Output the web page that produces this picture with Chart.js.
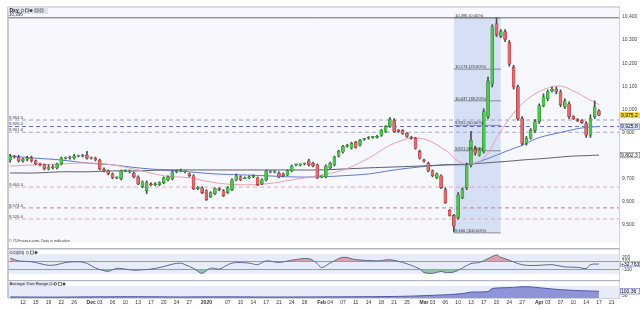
<!DOCTYPE html>
<html>
<head>
<meta charset="utf-8">
<title>Dxy</title>
<script src="https://cdn.jsdelivr.net/npm/chart.js@4.4.1/dist/chart.umd.min.js"></script>
<style>
  html, body { margin: 0; padding: 0; background: #ffffff; }
  #wrap { position: relative; width: 640px; height: 310px; overflow: hidden; }
  #wrap canvas { position: absolute; left: 0; }
</style>
</head>
<body>
<div id="wrap">
  <canvas id="priceChart" width="640" height="249" style="top:0"></canvas>
  <canvas id="cciChart" width="640" height="32" style="top:248px"></canvas>
  <canvas id="atrChart" width="640" height="30" style="top:280px"></canvas>
</div>
<script>
// daily sessions (Sunday sessions included), 8 Nov 2019 .. 17 Apr 2020, slot = index
const openP = [
  9781,9798,9794,9777,9785,9789,9777,9764,9760,9742,
  9751,9747,9764,9789,9789,9789,9798,9798,9802,9789,
  9789,9781,9742,9734,9721,9704,9700,9734,9730,9725,
  9708,9666,9648,9678,9674,9674,9683,9695,9700,9730,
  9734,9730,9721,9713,9657,9661,9648,9623,9636,9657,
  9648,9640,9653,9695,9708,9700,9704,9708,9704,9678,
  9695,9730,9730,9725,9721,9717,9734,9760,9760,9764,
  9777,9768,9760,9708,9708,9747,9760,9798,9815,9841,
  9832,9858,9845,9871,9875,9879,9879,9888,9905,9926,
  9952,9909,9909,9896,9879,9875,9819,9781,9768,9734,
  9704,9713,9653,9563,9542,9533,9619,9661,9760,9832,
  9802,9819,9969,10110,10370,10315,10336,10289,10182,10097,
  9960,9853,9875,9909,9947,10016,10046,10080,10088,10076,
  10011,10024,9969,9956,9952,9939,9888,9969,9994
];
const highP = [
  9806,9802,9802,9789,9798,9798,9781,9768,9764,9760,
  9760,9768,9794,9794,9798,9806,9802,9806,9819,9794,
  9794,9785,9747,9738,9725,9708,9738,9738,9738,9730,
  9713,9691,9691,9683,9683,9687,9708,9713,9734,9738,
  9742,9734,9725,9717,9666,9666,9653,9644,9661,9661,
  9653,9666,9700,9721,9713,9708,9713,9717,9708,9700,
  9738,9734,9734,9730,9725,9738,9760,9764,9764,9768,
  9785,9772,9764,9713,9760,9772,9798,9824,9845,9849,
  9858,9862,9871,9875,9883,9883,9888,9913,9930,9964,
  9960,9913,9913,9900,9883,9879,9824,9785,9772,9738,
  9725,9717,9661,9567,9546,9640,9661,9768,9905,9841,
  9832,10003,10140,10366,10396,10345,10345,10298,10191,10105,
  9969,9883,9917,9956,10024,10067,10084,10097,10097,10084,
  10046,10033,9973,9960,9956,9947,9977,10037,9999
];
const lowP = [
  9772,9789,9772,9772,9777,9772,9760,9755,9738,9738,
  9742,9742,9760,9785,9785,9785,9794,9794,9785,9785,
  9777,9738,9730,9717,9700,9700,9695,9730,9725,9704,
  9674,9661,9636,9670,9670,9670,9678,9691,9695,9725,
  9730,9725,9708,9653,9653,9636,9606,9619,9631,9648,
  9623,9636,9648,9691,9691,9700,9700,9704,9670,9674,
  9691,9725,9725,9704,9708,9713,9730,9755,9755,9760,
  9755,9751,9700,9704,9704,9742,9755,9794,9811,9836,
  9828,9832,9841,9866,9871,9875,9875,9883,9900,9922,
  9900,9900,9892,9879,9871,9828,9785,9772,9730,9708,
  9700,9657,9593,9538,9470,9525,9614,9653,9751,9802,
  9798,9811,9960,10097,10315,10310,10293,10187,10088,9952,
  9845,9845,9871,9900,9939,10011,10037,10076,10067,10011,
  10003,9960,9956,9947,9939,9879,9879,9960,9973
];
const closeP = [
  9798,9794,9777,9785,9789,9777,9764,9760,9742,9751,
  9747,9764,9789,9789,9794,9798,9798,9802,9789,9789,
  9781,9742,9734,9721,9704,9704,9734,9734,9730,9708,
  9678,9687,9683,9674,9674,9683,9704,9708,9730,9734,
  9734,9730,9713,9657,9661,9640,9610,9640,9657,9653,
  9627,9661,9695,9713,9695,9704,9708,9713,9674,9695,
  9734,9730,9730,9708,9713,9734,9755,9760,9760,9764,
  9760,9755,9704,9708,9755,9768,9794,9819,9841,9841,
  9853,9836,9866,9871,9879,9879,9879,9909,9926,9956,
  9905,9905,9896,9883,9875,9832,9789,9777,9734,9713,
  9721,9661,9597,9542,9495,9631,9653,9760,9866,9811,
  9824,9990,10122,10357,10323,10336,10302,10195,10097,9960,
  9853,9875,9909,9947,10016,10054,10076,10088,10076,10020,
  10037,9969,9960,9952,9943,9888,9960,10011,9975.2
];

// moving averages
const maSlots = [0,6,12,18,24,30,36,42,48,54,60,66,72,78,84,90,96,102,105,108,111,114,117,120,123,126,129,132,135,138];
const maFast = [9755,9760,9764,9768,9760,9738,9713,9704,9683,9674,9678,9695,9713,9738,9789,9853,9875,9824,9777,9764,9789,9875,9960,10024,10067,10092,10101,10080,10050,10020];
const maMid  = [9798,9789,9781,9768,9760,9747,9738,9730,9721,9717,9713,9708,9708,9713,9721,9738,9751,9760,9760,9764,9781,9802,9824,9845,9871,9888,9900,9913,9922,9925.8];
const maSlow = [9725,9725,9730,9730,9734,9734,9738,9738,9738,9738,9738,9738,9738,9742,9747,9751,9755,9760,9762,9764,9768,9772,9776,9781,9785,9789,9794,9798,9800,9802.3];

// CCI(20)
const cciSlots  = [0,2,5,7,9,11,13,16,18,20,22,23,25,27,29,31,33,36,38,40,41,43,44,45,47,49,52,56,58,60,63,66,70,72,73,75,78,81,86,89,92,94,96,97,99,101,102,104,106,108,110,112,114,115,117,119,121,124,127,130,133,135,136,138];
const cciValues = [180,111,89,44,0,17,72,89,50,-67,-133,-150,-78,-94,-122,-111,-94,-33,28,56,17,-78,-150,-200,-70,-94,56,56,17,111,72,128,167,44,-56,56,200,144,111,139,72,0,-94,-178,-200,-150,-178,-167,-67,44,72,167,256,200,128,44,0,0,17,-39,-50,-78,17,32.763];

// Average True Range (14)
const atrSlots  = [0,10,20,30,40,50,60,70,80,90,95,99,103,106,108,112,113,117,121,125,128,132,138];
const atrValues = [30,28,31,33,30,31,29,30,32,36,42,50,60,72,90,97,135,147,158,140,125,112,100.36];

// horizontal levels and fibonacci retracement
const topLine = 10396;
const levelValues = [9954, 9926, 9901, 9664, 9574, 9526];
const fibLevels = [10396, 10174, 10037, 9931, 9821, 9466];
const fibText = ['10,396 (0.00%)','10,174 (23.60%)','10,037 (38.20%)','9,931 (50.00%)','9,821 (61.80%)','9,466 (100.00%)'];
const fibFrom = 104, fibTo = 115;

// axis ticks
const yTicks = [9500,9600,9700,9800,9900,10000,10100,10200,10300,10400];
const cciTicks = [200, 100, -100];
const atrTicks = [50];
const xTickSlots  = [3,6,9,12,15,19,21,24,27,30,33,36,39,42,46,51,54,57,60,63,66,69,73,75,78,81,84,87,90,93,97,99,102,105,108,111,114,117,120,124,126,129,132,135,138,141];
const xTickLabels = ['12','15','19','22','26','Dec','03','06','10','13','17','20','24','27','2020','07','10','14','17','21','24','28','Feb','04','07','11','14','18','21','25','Mar','03','06','10','13','17','20','24','27','Apr','03','07','10','14','17','21'];
const monthTicks = ['Dec','2020','Feb','Mar','Apr'];

const FONT = '"Liberation Sans", Arial, sans-serif';
const X_MIN = -0.5, X_MAX = 142.7;
const levelColors = ['#9aa0c4','#5f6fd4','#a4a7d8','#e2a6b5','#d4788e','#e2a6b5'];

Chart.defaults.font.family = FONT;
Chart.defaults.font.size = 5;

const fmt = (v, d) => v.toLocaleString('en-US', {minimumFractionDigits: d || 0, maximumFractionDigits: d || 0});

function lineSet(xs, ys, color, extra) {
  return Object.assign({
    type: 'line',
    data: xs.map((x, k) => ({x: x, y: ys[k]})),
    borderColor: color, borderWidth: 1, pointRadius: 0, fill: false, tension: 0
  }, extra || {});
}

function txt(ctx, s, x, y, size, color, weight, align) {
  ctx.font = (weight || 'normal') + ' ' + size + 'px ' + FONT;
  ctx.fillStyle = color;
  ctx.textAlign = align || 'left';
  ctx.textBaseline = 'middle';
  ctx.fillText(s, x, y);
}

function tag(ctx, y, s, bg, border) {
  ctx.fillStyle = bg;
  ctx.fillRect(620, y - 3, 20, 6);
  if (border) {
    ctx.strokeStyle = border; ctx.lineWidth = 0.6;
    ctx.strokeRect(620.3, y - 2.7, 19.4, 5.4);
  }
  txt(ctx, s, 621, y + 0.3, 5, '#111');
}

function icons(ctx, x, y) {
  ctx.strokeStyle = '#555'; ctx.lineWidth = 0.7;
  ctx.beginPath(); ctx.arc(x + 1.5, y, 1.3, 0, Math.PI * 2); ctx.stroke();
  ctx.strokeRect(x + 4.5, y - 1.5, 3, 3);
  ctx.fillStyle = '#444'; ctx.beginPath(); ctx.arc(x + 10, y, 1.5, 0, Math.PI * 2); ctx.fill();
}

function frame(ctx, a, top, bottom) {
  ctx.strokeStyle = '#b7bbc6'; ctx.lineWidth = 1.5;
  ctx.beginPath(); ctx.moveTo(8, top); ctx.lineTo(8, bottom); ctx.stroke();
  ctx.lineWidth = 0.8; ctx.strokeStyle = '#c4c8d2';
  ctx.beginPath(); ctx.moveTo(a.right + 0.5, top); ctx.lineTo(a.right + 0.5, bottom); ctx.stroke();
}

const slots = openP.map((_, i) => i);
const isUp = slots.map(i => closeP[i] >= openP[i]);

// ---------- price panel ----------
const pricePanel = {
  id: 'pricePanel',
  beforeDraw(chart) {
    const {ctx, chartArea: a} = chart;
    ctx.save();
    ctx.fillStyle = '#f7f8fd';
    ctx.fillRect(a.left, a.top, a.right - a.left, a.bottom - a.top);
    ctx.restore();
  },
  afterDraw(chart) {
    const {ctx, chartArea: a} = chart;
    const ys = chart.scales.y, xs = chart.scales.x;
    ctx.save();
    frame(ctx, a, a.top, chart.height);
    ctx.strokeStyle = '#b7bbc6'; ctx.lineWidth = 1.2;
    ctx.beginPath(); ctx.moveTo(8, a.top); ctx.lineTo(a.right + 1, a.top); ctx.stroke();

    // toolbar
    ctx.fillStyle = '#dde2ec'; ctx.fillRect(8, a.top, 40, 7);
    txt(ctx, 'Dxy', 9.5, a.top + 3.6, 5, '#222', 'bold');
    icons(ctx, 21, a.top + 3.5);
    ctx.strokeStyle = '#555'; ctx.strokeRect(35, a.top + 2, 3, 3); ctx.strokeRect(40, a.top + 2, 3, 3);

    txt(ctx, fmt(topLine), 9, ys.getPixelForValue(topLine) - 2.6, 4.5, '#333');

    // level labels
    levelValues.forEach(v => txt(ctx, fmt(v, 1), 9, ys.getPixelForValue(v) - 2.4, 4.2, '#444'));

    // fibonacci labels
    const fx = xs.getPixelForValue(fibFrom) + 1;
    fibLevels.forEach((v, k) => txt(ctx, fibText[k], fx, ys.getPixelForValue(v) - 2.4, 4.2, '#333'));

    txt(ctx, '\u00a9 IT-Finance.com, Data is indicative', 9, a.bottom - 1.8, 3.8, '#444');

    // right axis tags
    const last = closeP.length - 1;
    tag(ctx, ys.getPixelForValue(maSlow[maSlow.length - 1]), fmt(maSlow[maSlow.length - 1], 1), '#ffffff', '#7a7a7a');
    tag(ctx, ys.getPixelForValue(maMid[maMid.length - 1]), fmt(maMid[maMid.length - 1], 1), '#dfe6fb', '#6a7fd8');
    tag(ctx, ys.getPixelForValue(closeP[last]), fmt(closeP[last], 1), '#f2d54a', null);
    ctx.restore();
  }
};

const priceDatasets = [
  lineSet([fibFrom, fibTo], [fibLevels[0], fibLevels[0]], 'rgba(0,0,0,0)',
    {fill: {value: fibLevels[fibLevels.length - 1]}, backgroundColor: 'rgba(204,218,243,0.8)', order: 12}),
  lineSet([X_MIN, X_MAX], [topLine, topLine], '#6a6a6a', {order: 10})
];
levelValues.forEach((v, k) => priceDatasets.push(
  lineSet([X_MIN, X_MAX], [v, v], levelColors[k], {borderDash: [4, 3], order: 9})));
fibLevels.forEach(v => priceDatasets.push(
  lineSet([fibFrom, fibTo], [v, v], '#70747f', {borderWidth: 0.8, order: 8})));
priceDatasets.push(
  lineSet(maSlots, maSlow, '#5b5d6b', {tension: 0.4, order: 6}),
  lineSet(maSlots, maMid, '#5a78d4', {tension: 0.4, order: 6}),
  lineSet(maSlots, maFast, '#e6a2ac', {tension: 0.4, order: 5}),
  {
    type: 'bar', order: 2, grouped: false, barThickness: 1, minBarLength: 1,
    data: slots.map(i => ({x: i, y: [lowP[i], highP[i]]})),
    backgroundColor: '#4a4a4a'
  },
  {
    type: 'bar', order: 1, grouped: false, barThickness: 3, minBarLength: 1,
    data: slots.map(i => ({x: i, y: [openP[i], closeP[i]]})),
    backgroundColor: isUp.map(u => u ? '#4cc64c' : '#e26a6a'),
    borderColor: isUp.map(u => u ? '#2a7a2a' : '#8e2e2e'),
    borderWidth: 0.5, borderSkipped: false
  }
);

new Chart(document.getElementById('priceChart'), {
  type: 'bar',
  data: {datasets: priceDatasets},
  options: {
    responsive: false, animation: false, events: [],
    layout: {padding: {left: 8, right: 0, top: 7, bottom: 3}},
    plugins: {legend: {display: false}, tooltip: {enabled: false}},
    scales: {
      x: {type: 'linear', display: false, min: X_MIN, max: X_MAX, offset: false},
      y: {
        position: 'right', min: 9422.2, max: 10442.7, beginAtZero: false,
        afterBuildTicks: s => { s.ticks = yTicks.map(v => ({value: v})); },
        afterFit: s => { s.width = 21; },
        grid: {display: false, drawTicks: false}, border: {display: false},
        ticks: {color: '#444', padding: 3, font: {size: 5}, callback: v => fmt(v)}
      }
    }
  },
  plugins: [pricePanel]
});

// ---------- CCI panel ----------
const cciPanel = {
  id: 'cciPanel',
  beforeDraw(chart) {
    const {ctx, chartArea: a} = chart;
    ctx.save();
    ctx.fillStyle = '#e8ecf8';
    ctx.fillRect(a.left, a.top, a.right - a.left, a.bottom - a.top);
    ctx.restore();
  },
  afterDraw(chart) {
    const {ctx, chartArea: a} = chart;
    ctx.save();
    frame(ctx, a, 0, chart.height);
    ctx.strokeStyle = '#b3b7c3'; ctx.lineWidth = 1.6;
    ctx.beginPath(); ctx.moveTo(8, 0.6); ctx.lineTo(a.right + 1, 0.6); ctx.stroke();
    ctx.fillStyle = '#dde2ec'; ctx.fillRect(8.8, 2.2, 15, 4.6);
    txt(ctx, 'CCI(20)', 9.5, 4.6, 4.2, '#222');
    icons(ctx, 26, 4.5);
    const v = cciValues[cciValues.length - 1];
    tag(ctx, chart.scales.y.getPixelForValue(v), '+' + fmt(v, 3), '#eef1fa', '#8a94c4');
    ctx.restore();
  }
};

new Chart(document.getElementById('cciChart'), {
  type: 'line',
  data: {datasets: [
    lineSet(cciSlots, cciValues, '#5d6a8a', {tension: 0.35, order: 1,
      fill: {target: {value: 100}, above: 'rgba(214,150,160,0.85)', below: 'rgba(0,0,0,0)'}}),
    lineSet(cciSlots, cciValues, 'rgba(0,0,0,0)', {tension: 0.35, borderWidth: 0, order: 2,
      fill: {target: {value: -100}, above: 'rgba(0,0,0,0)', below: 'rgba(128,190,150,0.85)'}})
  ]},
  options: {
    responsive: false, animation: false, events: [],
    layout: {padding: {left: 8, right: 0, top: 1, bottom: 1}},
    plugins: {legend: {display: false}, tooltip: {enabled: false}},
    scales: {
      x: {type: 'linear', display: false, min: X_MIN, max: X_MAX, offset: false},
      y: {
        position: 'right', min: -216.7, max: 283.3,
        afterBuildTicks: s => { s.ticks = cciTicks.map(v => ({value: v})); },
        afterFit: s => { s.width = 21; },
        grid: {drawTicks: false, lineWidth: 1,
          color: c => Math.abs(c.tick.value) === 100 ? '#8d97c6' : 'rgba(0,0,0,0)'},
        border: {display: false},
        ticks: {color: '#444', padding: 3, font: {size: 5}, callback: v => String(v)}
      }
    }
  },
  plugins: [cciPanel]
});

// ---------- ATR panel ----------
const atrPanel = {
  id: 'atrPanel',
  beforeDraw(chart) {
    const {ctx, chartArea: a} = chart;
    ctx.save();
    ctx.fillStyle = '#e8ecf8';
    ctx.fillRect(a.left, a.top, a.right - a.left, a.bottom - a.top);
    ctx.restore();
  },
  afterDraw(chart) {
    const {ctx, chartArea: a} = chart;
    ctx.save();
    frame(ctx, a, 0, a.bottom);
    ctx.strokeStyle = '#b3b7c3'; ctx.lineWidth = 1.4;
    ctx.beginPath(); ctx.moveTo(8, 0.5); ctx.lineTo(a.right + 1, 0.5); ctx.stroke();
    ctx.lineWidth = 0.8; ctx.strokeStyle = '#c4c8d2';
    ctx.beginPath(); ctx.moveTo(8, a.bottom + 0.5); ctx.lineTo(a.right + 1, a.bottom + 0.5); ctx.stroke();
    ctx.fillStyle = '#dde2ec'; ctx.fillRect(8.8, 1.6, 43, 4.6);
    txt(ctx, 'Average True Range (14)', 9.5, 4, 4.2, '#222');
    icons(ctx, 54, 3.9);
    const v = atrValues[atrValues.length - 1];
    tag(ctx, chart.scales.y.getPixelForValue(v), fmt(v, 2), '#eef1fa', '#6a72c0');
    ctx.restore();
  }
};

new Chart(document.getElementById('atrChart'), {
  type: 'line',
  data: {datasets: [
    lineSet(atrSlots, atrValues, '#4f57a8', {tension: 0.3, fill: 'start', backgroundColor: '#8d94d8'})
  ]},
  options: {
    responsive: false, animation: false, events: [],
    layout: {padding: {left: 8, right: 0, top: 0, bottom: 0}},
    plugins: {legend: {display: false}, tooltip: {enabled: false}},
    scales: {
      x: {
        type: 'linear', min: X_MIN, max: X_MAX, offset: false,
        afterBuildTicks: s => { s.ticks = xTickSlots.map(v => ({value: v})); },
        afterFit: s => { s.height = 12; },
        grid: {display: false, drawTicks: false}, border: {display: false},
        ticks: {
          autoSkip: false, maxRotation: 0, minRotation: 0, padding: 2, color: '#333',
          font: c => ({size: 5, weight: monthTicks.includes(xTickLabels[c.index]) ? 'bold' : 'normal'}),
          callback: (v, i) => xTickLabels[i]
        }
      },
      y: {
        position: 'right', min: 16.7, max: 166.7,
        afterBuildTicks: s => { s.ticks = atrTicks.map(v => ({value: v})); },
        afterFit: s => { s.width = 21; },
        grid: {display: false, drawTicks: false}, border: {display: false},
        ticks: {color: '#444', padding: 3, font: {size: 5}, callback: v => String(v)}
      }
    }
  },
  plugins: [atrPanel]
});
</script>
</body>
</html>
